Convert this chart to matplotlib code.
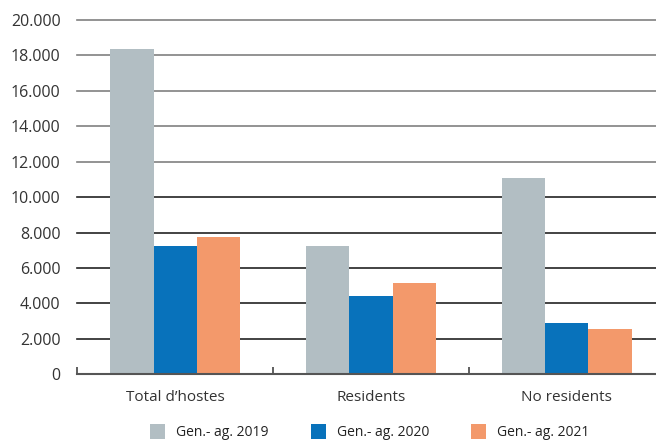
import numpy as np
import matplotlib
matplotlib.use('Agg')
import matplotlib.pyplot as plt
from matplotlib.ticker import FuncFormatter, FixedLocator

categories = ['Total d\u2019hostes', 'Residents', 'No residents']
series = ['Gen.- ag. 2019', 'Gen.- ag. 2020', 'Gen.- ag. 2021']
v2019 = [18350, 7250, 11100]
v2020 = [7220, 4420, 2900]
v2021 = [7750, 5150, 2570]
colors = ['#b2bec3', '#0872bb', '#f3996b']

plt.rcParams['font.family'] = ['Open Sans', 'DejaVu Sans']

fig = plt.figure(figsize=(6.56, 4.41), dpi=100)
ax = fig.add_axes([0.118, 0.151, 0.895, 0.804])

x = np.arange(len(categories))
w = 0.222
for i, (vals, lab, col) in enumerate(zip([v2019, v2020, v2021], series, colors)):
    ax.bar(x + (i - 1) * w, vals, w, color=col, label=lab, zorder=3)

ax.set_xlim(-0.5, 2.5)
ax.set_ylim(0, 20000)
ax.set_yticks(np.arange(0, 20001, 2000))
ax.yaxis.set_major_formatter(FuncFormatter(lambda v, p: f'{int(v):,}'.replace(',', '.')))

# gridlines: upper ones lighter grey as in the original
for yv in np.arange(2000, 20001, 2000):
    c = '#808080' if yv >= 12000 else '#222222'
    ax.axhline(yv, color=c, lw=1.2, zorder=1, clip_on=False, xmin=0)

ax.set_xticks(x)
ax.set_xticklabels(categories)
ax.xaxis.set_minor_locator(FixedLocator([-0.5, 0.5, 1.5]))
ax.tick_params(axis='x', which='major', length=0, pad=11, labelsize=11, labelcolor='#333333')
ax.tick_params(axis='x', which='minor', direction='in', length=5, width=1.2, color='#444444')
ax.tick_params(axis='y', length=0, pad=12, labelsize=11.5, labelcolor='#333333')

for s in ['top', 'right', 'left']:
    ax.spines[s].set_visible(False)
ax.spines['bottom'].set_color('#555555')
ax.spines['bottom'].set_linewidth(1.5)
ax.spines['bottom'].set_zorder(4)

fig.legend(loc='center', bbox_to_anchor=(0.564, 0.02), ncol=3, frameon=False,
           handlelength=1.1, handleheight=1.2, handletextpad=0.8,
           columnspacing=3.0, fontsize=10, labelcolor='#222222')

fig.savefig('out.png', dpi=100)
